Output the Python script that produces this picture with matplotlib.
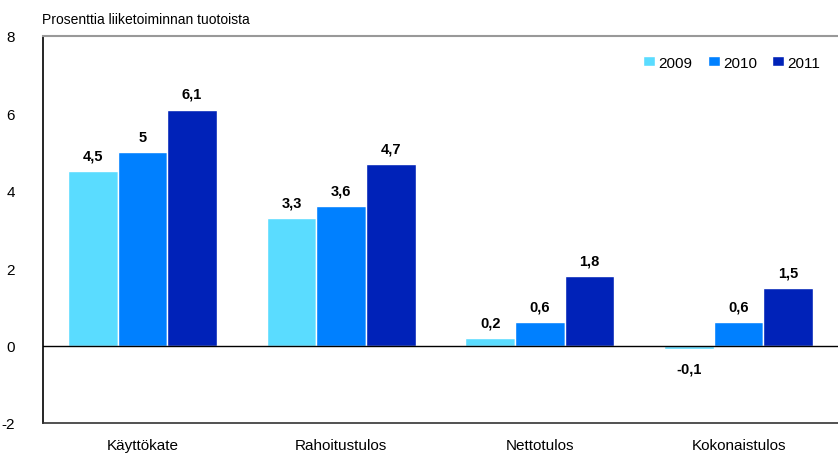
import matplotlib
matplotlib.use("Agg")
import matplotlib.pyplot as plt
import numpy as np

categories = ["Käyttökate", "Rahoitustulos", "Nettotulos", "Kokonaistulos"]
years = ["2009", "2010", "2011"]
v2009 = [4.5, 3.3, 0.2, -0.1]
v2010 = [5.0, 3.6, 0.6, 0.6]
v2011 = [6.1, 4.7, 1.8, 1.5]
labels2009 = ["4,5", "3,3", "0,2", "-0,1"]
labels2010 = ["5", "3,6", "0,6", "0,6"]
labels2011 = ["6,1", "4,7", "1,8", "1,5"]
colors = ["#5ADCFF", "#0080FF", "#0022B8"]

plt.rcParams['font.family'] = ['Liberation Sans', 'DejaVu Sans']
plt.rcParams['axes.unicode_minus'] = False
fig = plt.figure(figsize=(8.38, 4.56), dpi=100)
ax = fig.add_axes([0.0513, 0.0702, 0.9487, 0.8487])

x = np.arange(len(categories))
w = 0.25
series = [v2009, v2010, v2011]
labs = [labels2009, labels2010, labels2011]
for i, (vals, lab) in enumerate(zip(series, labs)):
    pos = x + (i - 1) * w
    ax.bar(pos, vals, width=w, color=colors[i], edgecolor="white", linewidth=1.0, label=years[i])
    for p, v, t in zip(pos, vals, lab):
        if v >= 0:
            ax.text(p, v + 0.22, t, ha="center", va="bottom", fontsize=10.5, fontweight="bold")
        else:
            ax.text(p, v - 0.3, t, ha="center", va="top", fontsize=10.5, fontweight="bold")

ax.axhline(0, color="black", linewidth=1.0)
ax.set_xlim(-0.5, 3.5)
ax.set_ylim(-2, 8)
ax.set_yticks([-2, 0, 2, 4, 6, 8])
ax.set_xticks(x)
ax.set_xticklabels(categories, fontsize=11)
ax.tick_params(axis="both", length=0, labelsize=11)
ax.tick_params(axis="y", pad=20)
ax.tick_params(axis="x", pad=11)
ax.spines["right"].set_visible(False)
ax.spines["top"].set_color("#999999")
ax.spines["top"].set_linewidth(1.5)
ax.spines["left"].set_color("black")
ax.spines["left"].set_linewidth(1.2)
ax.spines["bottom"].set_color("#333333")
ax.spines["bottom"].set_linewidth(1.2)

fig.text(0.05, 0.957, "Prosenttia liiketoiminnan tuotoista", fontsize=10, ha="left", va="center")

ax.legend(loc="upper right", bbox_to_anchor=(0.995, 0.985), ncol=3, frameon=False,
          handlelength=0.8, handleheight=0.6, handletextpad=0.2, columnspacing=1.0, fontsize=11)

fig.savefig("out.png", dpi=100)
